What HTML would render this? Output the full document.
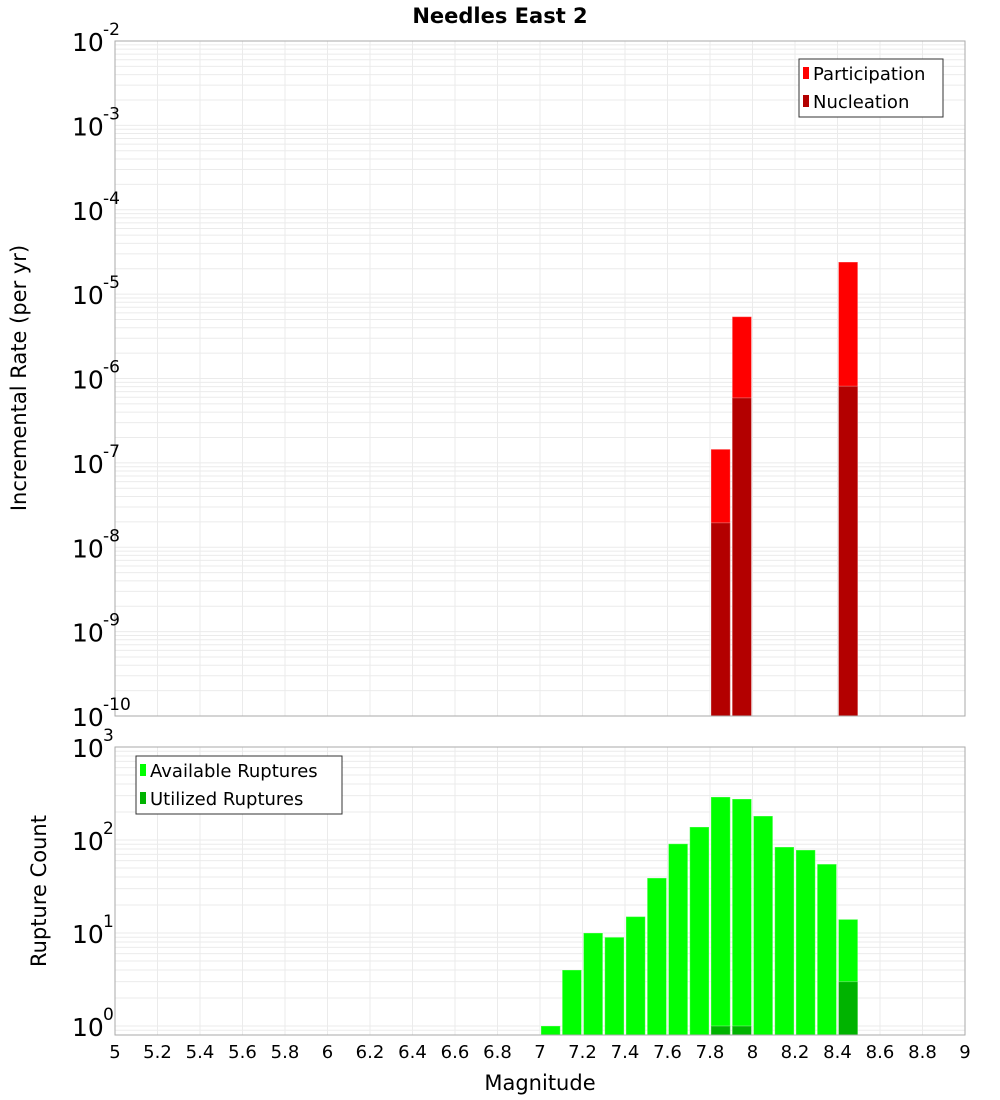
<!DOCTYPE html>
<html><head><meta charset="utf-8"><style>
body{margin:0;background:#fff;}
svg{display:block;font-family:"DejaVu Sans","Liberation Sans",sans-serif;}
</style></head><body>
<svg id="c" width="1000" height="1100" xmlns="http://www.w3.org/2000/svg">
<text x="500" y="23" text-anchor="middle" font-size="21" font-weight="bold">Needles East 2</text>
<g id="top"></g>
<g id="bot"></g>
<text transform="translate(26,378) rotate(-90)" text-anchor="middle" font-size="21">Incremental Rate (per yr)</text>
<text transform="translate(46,891) rotate(-90)" text-anchor="middle" font-size="21">Rupture Count</text>
<text x="540" y="1090" text-anchor="middle" font-size="21">Magnitude</text>
<g>
<rect x="799" y="59" width="144" height="58" fill="#fff" stroke="#333"/>
<rect x="803" y="67" width="6" height="12" fill="#ff0000"/>
<text x="813" y="80" font-size="18">Participation</text>
<rect x="803" y="95" width="6" height="12" fill="#b30000"/>
<text x="813" y="108" font-size="18">Nucleation</text>
</g>
<g>
<rect x="136" y="756" width="206" height="58" fill="#fff" stroke="#333"/>
<rect x="140" y="764" width="6" height="12" fill="#00ff00"/>
<text x="150" y="777" font-size="18">Available Ruptures</text>
<rect x="140" y="792" width="6" height="12" fill="#00b300"/>
<text x="150" y="805" font-size="18">Utilized Ruptures</text>
</g>
</svg>
<script>
const mags = [7.05,7.15,7.25,7.35,7.45,7.55,7.65,7.75,7.85,7.95,8.05,8.15,8.25,8.35,8.45];
const available = [1,4,10,9,15,39,91,138,290,276,181,84,78,55,14];
const utilizedMags = [7.85,7.95,8.45];
const utilized = [1,1,3];
const rateMags = [7.85,7.95,8.45];
const participation = [1.45e-7,5.4e-6,2.4e-5];
const nucleation = [1.95e-8,5.9e-7,8.1e-7];
const xTicks = [5,5.2,5.4,5.6,5.8,6,6.2,6.4,6.6,6.8,7,7.2,7.4,7.6,7.8,8,8.2,8.4,8.6,8.8,9];
const topExps = [-2,-3,-4,-5,-6,-7,-8,-9,-10];
const botExps = [0,1,2,3];

const NS="http://www.w3.org/2000/svg";
const X0=115,X1=965;
function xs(m){return X0+(m-5)/4*(X1-X0);}
const T={y0:41,y1:716,lmin:-10,lmax:-2};
const B={y0:747,y1:1035,lmin:Math.log10(0.8),lmax:3};
function ys(P,v){return P.y1-(Math.log10(v)-P.lmin)/(P.lmax-P.lmin)*(P.y1-P.y0);}
function mk(par,tag,at){const e=document.createElementNS(NS,tag);for(const k in at)e.setAttribute(k,at[k]);par.appendChild(e);return e;}

function frame(g,P,name){
  for(let d=Math.floor(P.lmin);d<P.lmax;d++){for(let k=1;k<10;k++){const v=k*Math.pow(10,d);if(Math.log10(v)<P.lmin-1e-9||Math.log10(v)>P.lmax+1e-9)continue;const y=ys(P,v);
    const l=mk(g,'line',{x1:X0,x2:X1,y1:y,y2:y,stroke:'#ebebeb','stroke-width':1});
    
    }}
  xTicks.forEach(t=>{const x=xs(t);const l=mk(g,'line',{x1:x,x2:x,y1:P.y0,y2:P.y1,stroke:'#ebebeb','stroke-width':1});
    
    });
}
function border(g,P,name){const r=mk(g,'rect',{x:X0,y:P.y0,width:X1-X0,height:P.y1-P.y0,fill:'none',stroke:'#aaa'});
  
  }
function bar(g,m,v,P,color,name){const x=xs(m-0.05)+1,w=xs(m+0.05)-xs(m-0.05)-2;const y=ys(P,v);
  const r=mk(g,'rect',{x:x,y:y,width:w,height:P.y1-y,fill:color,stroke:'#fff','stroke-opacity':0.3});
  
  }
function ylabels(g,P,exps,name){exps.forEach(e=>{const y=ys(P,Math.pow(10,e));
  const t=mk(g,'text',{x:72,y:y+10,'font-size':25});
  
  
  t.textContent='10';
  const s=mk(g,'text',{x:103,y:y-6,'font-size':17});
  
  
  s.textContent=String(e);});}

const gt=document.getElementById('top'),gb=document.getElementById('bot');
frame(gt,T,'rate');frame(gb,B,'count');
rateMags.forEach((m,i)=>bar(gt,m,participation[i],T,'#ff0000','participation-bar'));
rateMags.forEach((m,i)=>bar(gt,m,nucleation[i],T,'#b30000','nucleation-bar'));
mags.forEach((m,i)=>bar(gb,m,available[i],B,'#00ff00','available-bar'));
utilizedMags.forEach((m,i)=>bar(gb,m,utilized[i],B,'#00b300','utilized-bar'));
border(gt,T,'rate');border(gb,B,'count');
ylabels(gt,T,topExps,'rate-y');ylabels(gb,B,botExps,'count-y');
xTicks.forEach(t=>{const e=mk(gb,'text',{x:xs(t),y:1058,'font-size':18,'text-anchor':'middle'});
  
  
  e.textContent=String(t);});
</script>
</body></html>
